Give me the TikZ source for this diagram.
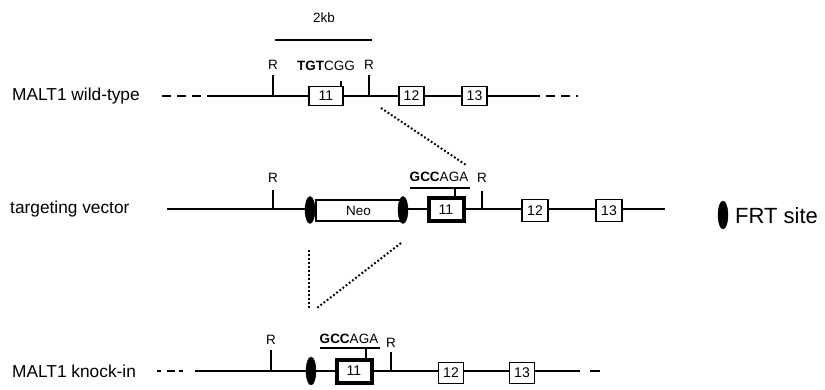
\documentclass[tikz,border=0pt]{standalone}
\usepackage{fontspec}
\setmainfont{Liberation Sans}
\usetikzlibrary{shapes.geometric}
\tikzset{
  dna/.style={line width=2.2pt},
  dnadash/.style={line width=2.2pt, dash pattern=on 9pt off 6pt},
  tick/.style={line width=1.8pt},
  exon/.style={draw, line width=1.9pt, fill=white, inner sep=0pt, font=\fontsize{14}{14}\selectfont},
  exonthick/.style={draw, line width=4pt, fill=white, inner sep=0pt, font=\fontsize{14}{14}\selectfont},
  frt/.style={ellipse, fill=black, draw=black, inner sep=0pt, minimum width=10pt, minimum height=27pt},
  small/.style={font=\fontsize{13.5}{13.5}\selectfont, inner sep=0pt},
  rowlabel/.style={font=\fontsize{17.3}{17.3}\selectfont, inner sep=0pt, anchor=west},
  dotline/.style={line width=2pt, dash pattern=on 1.8pt off 2.2pt},
}
\begin{document}
\begin{tikzpicture}[x=1pt,y=-1pt]
\useasboundingbox (0,0) rectangle (825,390);

% ---------- scale bar ----------
\node[small] (kb) at (324,18) {2kb};
\coordinate (sbA) at (275,40);
\coordinate (sbB) at (372,40);
\draw[line width=2.4pt] (sbA) -- (sbB);

% ---------- row 1: wild type ----------
\node[rowlabel] (lwt) at (12,96) {MALT1 wild-type};
\coordinate (w0) at (162,96);
\coordinate (w1) at (210,96);
\coordinate (w2) at (531,96);
\coordinate (w3) at (578,96);
\draw[dnadash] (w0) -- (w1);
\draw[dna] (w1) -- (w2);
\draw[dnadash] (w2) -- (w3);
\coordinate (wr1t) at (273,75); \coordinate (wr1b) at (273,96);
\coordinate (wr2t) at (369,75); \coordinate (wr2b) at (369,96);
\draw[tick] (wr1t) -- (wr1b);
\draw[tick] (wr2t) -- (wr2b);
\node[small] (wR1) at (273,65) {R};
\node[small] (wR2) at (369,65) {R};
\node[small] (wseq) at (326,66) {\textbf{TGT}CGG};
\node[exon, minimum width=34pt, minimum height=19pt] (we11) at (326,96) {11};
\coordinate (wst) at (341,81);
\draw[tick] (wst) -- (we11.north -| wst);
\node[exon, minimum width=25pt, minimum height=19pt] (we12) at (411.5,96) {12};
\node[exon, minimum width=25pt, minimum height=19pt] (we13) at (474.5,96) {13};

% dotted connector row1 -> row2
\coordinate (d1a) at (381,108);
\coordinate (d1b) at (466,165);
\draw[dotline] (d1a) -- (d1b);

% ---------- row 2: targeting vector ----------
\node[rowlabel] (ltv) at (10,209) {targeting vector};
\coordinate (t0) at (167,209);
\coordinate (t1) at (665,209);
\draw[dna] (t0) -- (t1);
\coordinate (tr1t) at (273,190); \coordinate (tr1b) at (273,209);
\coordinate (tr2t) at (482,191); \coordinate (tr2b) at (482,209);
\draw[tick] (tr1t) -- (tr1b);
\draw[tick] (tr2t) -- (tr2b);
\node[small] (tR1) at (273,178) {R};
\node[small] (tR2) at (482,178) {R};
\node[draw, line width=2.6pt, fill=white, inner sep=0pt, minimum width=85pt, minimum height=21pt, font=\fontsize{13.5}{13.5}\selectfont] (neo) at (358.5,210.5) {Neo};
\node[frt] (f1) at (310,210) {};
\node[frt] (f2) at (403,210) {};
\node[exonthick, minimum width=35pt, minimum height=23pt] (te11) at (446,210) {11};
\node[small] (tseq) at (439,177) {\textbf{GCC}AGA};
\coordinate (tulA) at (410,188);
\coordinate (tulB) at (470,188);
\draw[tick] (tulA) -- (tulB);
\coordinate (tst) at (455,188);
\draw[tick] (tst) -- (te11.north -| tst);
\node[exon, minimum width=26pt, minimum height=22pt] (te12) at (535,210.5) {12};
\node[exon, minimum width=26pt, minimum height=22pt] (te13) at (609,210.5) {13};

% legend
\node[frt, minimum height=28pt] (lf) at (723,215) {};
\node[font=\fontsize{22}{22}\selectfont, inner sep=0pt, anchor=west] (lft) at (735,216) {FRT site};

% dotted connectors row2 -> row3
\coordinate (d2a) at (309,250);
\coordinate (d2b) at (309,308);
\draw[dotline] (d2a) -- (d2b);
\coordinate (d3a) at (401,243);
\coordinate (d3b) at (317,308);
\draw[dotline] (d3a) -- (d3b);

% ---------- row 3: knock-in ----------
\node[rowlabel] (lki) at (12,371) {MALT1 knock-in};
\coordinate (k0) at (157,371);
\coordinate (k1) at (183,371);
\coordinate (k2) at (195,371);
\coordinate (k3) at (577,371);
\coordinate (k4) at (600,371);
\draw[dnadash, dash pattern=on 4pt off 6pt on 8pt off 4pt on 4pt off 20pt] (k0) -- (k1);
\draw[dna] (k2) -- (k3);
\draw[dnadash, dash pattern=on 3pt off 10pt on 10pt off 5pt] (k3) -- (k4);
\coordinate (kr1t) at (271,350); \coordinate (kr1b) at (271,371);
\coordinate (kr2t) at (391,352); \coordinate (kr2b) at (391,371);
\draw[tick] (kr1t) -- (kr1b);
\draw[tick] (kr2t) -- (kr2b);
\node[small] (kR1) at (271,340) {R};
\node[small] (kR2) at (391,343) {R};
\node[frt, minimum height=28pt] (kf) at (311,371) {};
\node[exonthick, minimum width=35pt, minimum height=23pt] (ke11) at (354,371) {11};
\node[small] (kseq) at (349,339) {\textbf{GCC}AGA};
\coordinate (kulA) at (320,348);
\coordinate (kulB) at (380,348);
\draw[tick] (kulA) -- (kulB);
\coordinate (kst) at (366,348);
\draw[tick] (kst) -- (ke11.north -| kst);
\node[exon, minimum width=25pt, minimum height=21pt] (ke12) at (451,373) {12};
\node[exon, minimum width=25pt, minimum height=21pt] (ke13) at (522,373) {13};
\end{tikzpicture}
\end{document}
